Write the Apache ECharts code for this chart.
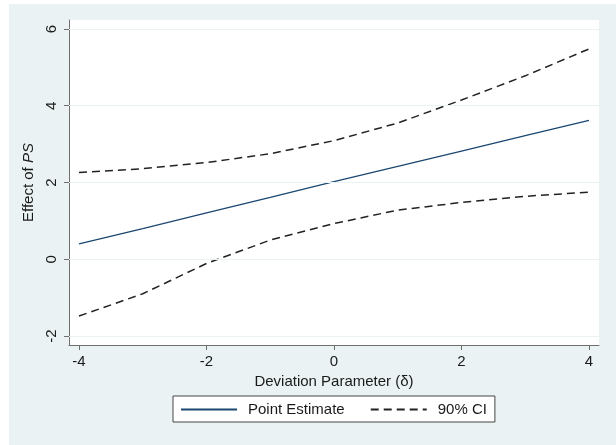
<!DOCTYPE html>
<html>
<head>
<meta charset="utf-8">
<script src="https://cdn.jsdelivr.net/npm/echarts@6/dist/echarts.min.js"></script>
<style>
  html, body { margin: 0; padding: 0; background: #fff; }
  #wrap { position: relative; width: 616px; height: 445px; background: #fff; overflow: hidden; }
  #chart { position: absolute; left: 9px; top: 4px; width: 607px; height: 441px; }
</style>
</head>
<body>
<div id="wrap"><div id="chart"></div></div>
<script>
// deviation parameter (delta)
const xValues = [-4, -3, -2, -1, 0, 1, 2, 3, 4];
const pointEstimate = [0.40, 0.80, 1.21, 1.61, 2.02, 2.42, 2.82, 3.22, 3.62];
const ciUpper = [2.26, 2.36, 2.52, 2.75, 3.09, 3.55, 4.15, 4.78, 5.48];
const ciLower = [-1.48, -0.90, -0.11, 0.50, 0.93, 1.28, 1.48, 1.64, 1.75];
const xTicks = [-4, -2, 0, 2, 4];
const yTicks = [-2, 0, 2, 4, 6];

const pairs = ys => xValues.map((x, i) => [x, ys[i]]);
const font = "Liberation Sans, Arial, sans-serif";
const axisGray = "#6f6f6f";
const textColor = "#1a1a1a";

const chart = echarts.init(document.getElementById("chart"));
const option = {
  backgroundColor: "#eaf2f3",
  animation: false,
  textStyle: { fontFamily: font },
  grid: {
    left: 60, right: 17, top: 16, bottom: 100,
    show: true, backgroundColor: "#fff", borderWidth: 0
  },
  legend: {
    left: 164, top: 392,
    data: ["Point Estimate", "90% CI"],
    orient: "horizontal",
    backgroundColor: "#fff",
    borderColor: "#444",
    borderWidth: 1,
    padding: [6, 8, 5, 7],
    itemWidth: 56, itemHeight: 14, itemGap: 25,
    itemStyle: { opacity: 0 },
    textStyle: { fontSize: 15, color: textColor, fontFamily: font, padding: [0, 0, 0, 6] }
  },
  xAxis: {
    type: "value",
    min: -4.157, max: 4.157,
    name: "Deviation Parameter (δ)",
    nameLocation: "middle",
    nameGap: 27,
    nameTextStyle: { fontSize: 15, color: textColor, fontFamily: font },
    axisLine: { show: true, onZero: false, lineStyle: { color: axisGray, width: 1 } },
    axisTick: { show: true, length: 5, customValues: xTicks, lineStyle: { color: axisGray } },
    axisLabel: { customValues: xTicks, margin: 9, fontSize: 15, color: textColor, fontFamily: font },
    splitLine: { show: false }
  },
  yAxis: {
    type: "value",
    min: -2.2345, max: 6.2345,
    name: "Effect of {i|PS}",
    nameLocation: "middle",
    nameRotate: 90,
    nameGap: 27,
    nameTextStyle: {
      fontSize: 15, color: textColor, fontFamily: font,
      rich: { i: { fontSize: 15, fontStyle: "italic", color: textColor, fontFamily: font } }
    },
    axisLine: { show: true, onZero: false, lineStyle: { color: axisGray, width: 1 } },
    axisTick: { show: true, length: 5, customValues: yTicks, lineStyle: { color: axisGray } },
    axisLabel: { customValues: yTicks, rotate: 90, margin: 10, fontSize: 15, color: textColor, fontFamily: font },
    splitLine: { show: false }
  },
  series: [
    {
      // horizontal grid lines at the y ticks
      type: "line",
      data: [],
      z: 1,
      silent: true,
      markLine: {
        silent: true,
        symbol: ["none", "none"],
        label: { show: false },
        lineStyle: { color: "#eaf2f3", width: 1, type: "solid" },
        data: yTicks.map(v => ({ yAxis: v }))
      }
    },
    {
      name: "Point Estimate",
      type: "line",
      data: pairs(pointEstimate),
      symbol: "none",
      z: 3,
      lineStyle: { color: "#1a476f", width: 1.3 },
      itemStyle: { color: "#1a476f" }
    },
    {
      name: "90% CI",
      type: "line",
      data: pairs(ciUpper),
      symbol: "none",
      z: 3,
      lineStyle: { color: "#222", width: 1.5, type: [8, 5] },
      itemStyle: { color: "#222" }
    },
    {
      name: "90% CI",
      type: "line",
      data: pairs(ciLower),
      symbol: "none",
      z: 3,
      lineStyle: { color: "#222", width: 1.5, type: [8, 5] },
      itemStyle: { color: "#222" }
    }
  ]
};
chart.setOption(option);
</script>
</body>
</html>
